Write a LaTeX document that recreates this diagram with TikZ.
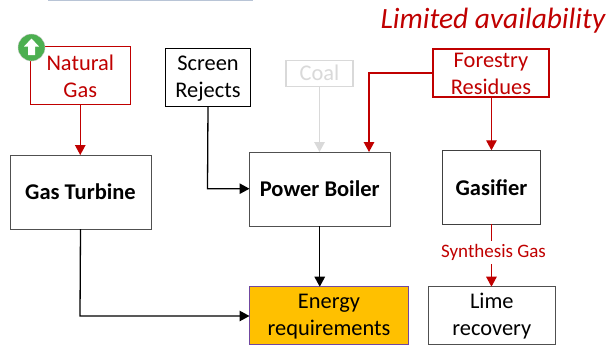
\documentclass[tikz,border=0pt]{standalone}
\usepackage{fontspec}
\setmainfont{Carlito}
\usetikzlibrary{arrows.meta}
\definecolor{cred}{RGB}{192,0,0}
\definecolor{cgray}{RGB}{217,217,217}
\definecolor{cbox}{RGB}{80,80,80}
\definecolor{corange}{RGB}{255,192,0}
\definecolor{cpurple}{RGB}{112,72,160}
\newcommand{\lowerstrut}{\rule{0pt}{17pt}}
\tikzset{
  x=1pt,y=-1pt,
  box/.style={draw=#1,line width=1pt,align=center,inner sep=0pt,outer sep=0pt,anchor=north west,font=\fontsize{22.4}{27}\selectfont,fill=white},
  bold/.style={font=\fontsize{22.5}{27}\selectfont\bfseries},
  conn/.style={line width=1.3pt,-{Triangle[length=10pt,width=10.5pt]}},
}
\begin{document}
\begin{tikzpicture}
\useasboundingbox (0,0) rectangle (607,346);
\draw[color={rgb,255:red,184;green,196;blue,214},line width=1pt] (48,0.3) -- (253,0.3);
\node[box=cred,text=cred,minimum width=100.5pt,minimum height=58pt] (ng) at (30,46.5) {\lowerstrut Natural\\Gas};
\node[box=black,minimum width=85pt,minimum height=58pt] (sr) at (165.5,48) {\lowerstrut Screen\\Rejects};
\node[box=cgray,text=cgray,line width=1.6pt,minimum width=67pt,minimum height=26pt] (coal) at (286,60.3) {Coal};
\node[box=cred,text=cred,line width=1.8pt,minimum width=116pt,minimum height=48pt] (fr) at (433,49) {\lowerstrut Forestry\\Residues};
\node[box=cbox,bold,minimum width=141pt,minimum height=74pt] (gt) at (10,155) {Gas Turbine};
\node[box=cbox,bold,minimum width=140.5pt,minimum height=74pt] (pb) at (249.5,152) {Power Boiler};
\node[box=black!75,bold,minimum width=97.5pt,minimum height=74pt] (gs) at (442.7,150.3) {Gasifier};
\node[box=cpurple,fill=corange,minimum width=159pt,minimum height=58pt] (er) at (249.5,286.7) {\lowerstrut Energy\\requirements};
\node[box=cbox,minimum width=127pt,minimum height=58pt] (lr) at (428.3,286.7) {\lowerstrut Lime\\recovery};
\node[font=\fontsize{29.4}{34}\selectfont\itshape,text=cred,anchor=base east,inner sep=0pt] (la) at (605.5,28) {Limited availability};
\node[fill=white,inner sep=0pt,minimum height=23pt,text=cred,font=\fontsize{19}{22}\selectfont] (sg) at (493.5,252.5) {Synthesis Gas};
\coordinate (a) at (369,73);
\coordinate (b) at (207.5,188.7);
\coordinate (c) at (80,316);
\draw[conn,cred] (ng.south) -- (gt.north -| ng.south);
\draw[conn,cred] (gs.north |- fr.south) -- (gs.north);
\draw[conn,cred] (fr.west |- a) -- (a) -- (a |- pb.north);
\draw[conn,cgray] (coal.south) -- (coal.south |- pb.north);
\draw[conn] (sr.south) -- (b) -- (pb.west |- b);
\draw[conn] (gt.south) -- (c) -- (er.west |- c);
\draw[conn] (pb.south) -- (pb.south |- er.north);
\draw[cred,line width=1.1pt] (gs.south) -- (gs.south |- sg.north);
\draw[conn,cred] (gs.south |- sg.south) -- (gs.south |- lr.north);
\fill[color={rgb,255:red,76;green,175;blue,80},draw=black!20,line width=.4pt] (31.5,47.5) circle (13.5);
\fill[white] (31.5,38.5) -- (39,46.5) -- (35,46.5) -- (35,55) -- (28,55) -- (28,46.5) -- (24,46.5) -- cycle;
\end{tikzpicture}
\end{document}
